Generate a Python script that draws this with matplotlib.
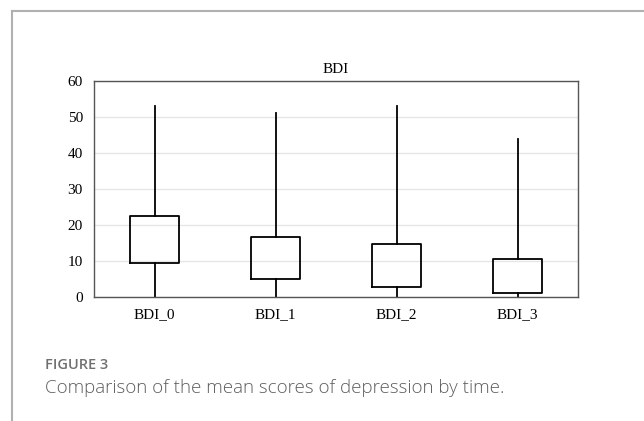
import matplotlib
matplotlib.use("Agg")
import matplotlib.pyplot as plt
from matplotlib.lines import Line2D

categories = ["BDI_0", "BDI_1", "BDI_2", "BDI_3"]
whisker_low = [0, 0, 0, 0]
q1 = [9.4, 4.9, 2.8, 1.1]
q3 = [22.4, 16.8, 14.7, 10.6]
whisker_high = [53, 51, 53, 44]
y_ticks = [0, 10, 20, 30, 40, 50, 60]

fig = plt.figure(figsize=(6.44, 4.21), dpi=100)
ax = fig.add_axes([0.146, 0.2945, 0.7516, 0.513])

stats = []
for i, name in enumerate(categories):
    stats.append({"label": name, "whislo": whisker_low[i], "q1": q1[i],
                  "med": q1[i], "q3": q3[i], "whishi": whisker_high[i]})

ax.bxp(stats, positions=range(len(categories)), widths=0.41, showcaps=False,
       showfliers=False,
       boxprops=dict(color="black", linewidth=1.3),
       whiskerprops=dict(color="black", linewidth=1.3),
       medianprops=dict(linewidth=0))

ax.set_xlim(-0.5, len(categories) - 0.5)
ax.set_ylim(0, 60)
ax.set_yticks(y_ticks)
ax.yaxis.grid(True, color="#e6e6e6", linewidth=1)
ax.set_axisbelow(True)
ax.tick_params(length=0, labelsize=11, pad=8)
for lab in ax.get_xticklabels() + ax.get_yticklabels():
    lab.set_family("Liberation Serif")
for s in ax.spines.values():
    s.set_color("#555555")
    s.set_linewidth(1)
ax.set_title("BDI", family="Liberation Serif", fontsize=11, pad=6)

# outer frame of the figure panel
fx = 11.5 / 644
fy = 1 - 11 / 421
fig.add_artist(Line2D([fx, 1], [fy, fy], color="#b0b0b0", linewidth=1.5))
fig.add_artist(Line2D([fx, fx], [0, fy], color="#b0b0b0", linewidth=1.5))

fig.text(45 / 644, 1 - 365 / 421, "FIGURE 3", family="Open Sans", fontsize=10.5,
         weight="semibold", color="#707070", va="center")
fig.text(45 / 644, 1 - 388 / 421, "Comparison of the mean scores of depression by time.",
         family="Open Sans", fontsize=13.5, weight="light", color="#5e5e5e", va="center")

fig.savefig("out.png", dpi=100)
